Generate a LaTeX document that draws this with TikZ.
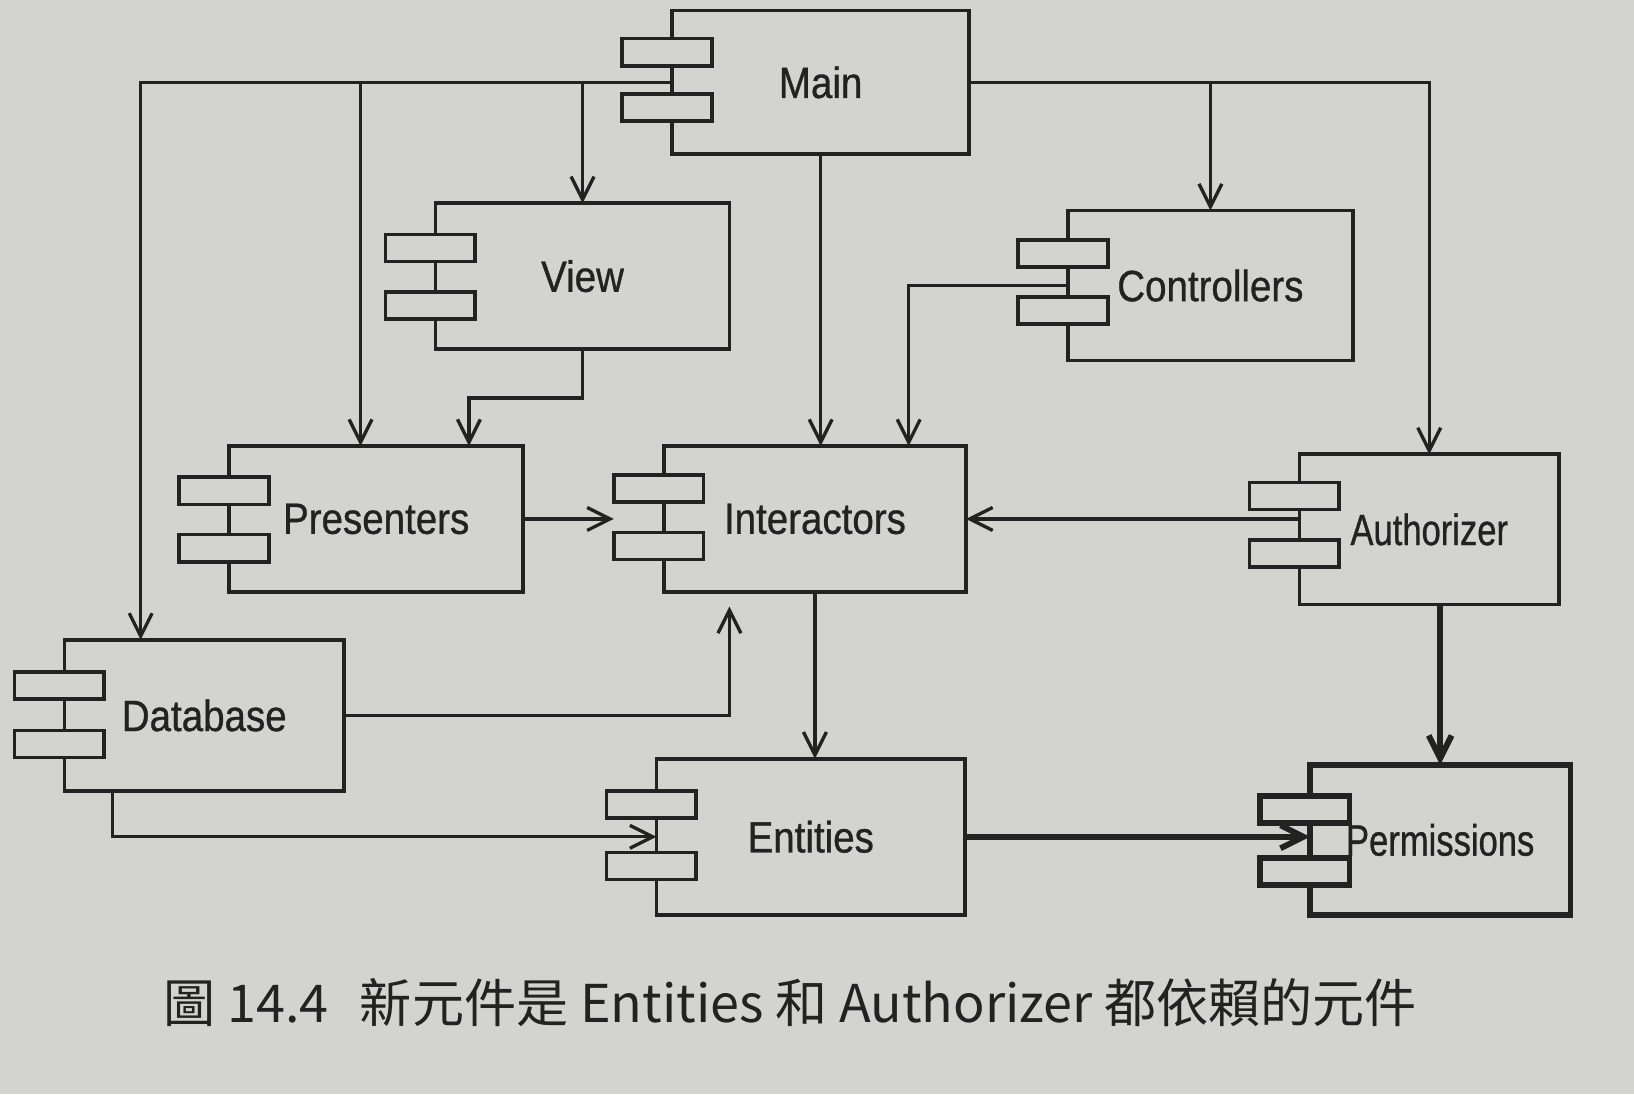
\documentclass[tikz,border=0pt]{standalone}
\usepackage{graphicx}
\usepackage{fontspec}
\setmainfont{Liberation Sans}
\newfontfamily\lblfont[FakeBold=0.8]{Liberation Sans}
\newfontfamily\cjk{Noto Sans CJK TC}
\usetikzlibrary{arrows.meta,fit,calc}
\definecolor{paper}{RGB}{211,211,207}
\definecolor{ink}{RGB}{34,34,34}
\newcommand{\lbl}[2][0.88]{\lblfont\fontsize{21}{24}\selectfont\scalebox{#1}[1]{#2}}
\newcommand{\compbox}[9]{%
  \node[box,#9,fit={(#2,#3) (#4,#5)}] (#1) {};
  \node[port,#9,fit={(#2-48,#6) (#2+38,#6+26)}] (#1-pa) {};
  \node[port,#9,fit={(#2-48,#7) (#2+38,#7+26)}] (#1-pb) {};
  \node[lab] (#1-t) at (#1.center) {#8};
}
\begin{document}
\begin{tikzpicture}[x=0.5pt,y=-0.5pt,
  box/.style={draw=ink,line width=1.8pt,inner sep=0pt,outer sep=0pt},
  port/.style={draw=ink,line width=1.8pt,inner sep=0pt,outer sep=0pt,fill=paper},
  lab/.style={inner sep=0pt,text=ink,anchor=center},
  heavy/.style={line width=2.8pt},
  conn/.style={draw=ink,line width=1.6pt,line join=miter,-{Straight Barb[length=11pt,width=11pt]}},
  heavyconn/.style={conn,line width=2.8pt}]
\fill[paper] (0,0) rectangle (1568,1050);
\useasboundingbox (0,0) rectangle (1568,1050);

\compbox{main}{645}{10}{930}{148}{37}{90}{\lbl{Main}}{}
\compbox{view}{418}{195}{700}{335}{225}{280}{\lbl{View}}{}
\compbox{ctrl}{1025}{202}{1298}{346}{230}{285}{\lbl{Controllers}}{}
\compbox{pres}{220}{428}{502}{568}{458}{513}{\lbl{Presenters}}{}
\compbox{inter}{637}{428}{927}{568}{456}{511}{\lbl{Interactors}}{}
\compbox{auth}{1247}{436}{1496}{580}{463}{518}{\lbl[0.79]{Authorizer}}{}
\compbox{db}{62}{614}{330}{759}{645}{701}{\lbl{Database}}{}
\compbox{ent}{630}{728}{926}{878}{759}{818}{\lbl{Entities}}{}
\compbox{perm}{1257}{734}{1507}{878}{764}{823}{\lbl[0.79]{Permissions}}{heavy}

\coordinate (dbin) at ($(db.north west)+(73,0)$);
\coordinate (presin) at ($(pres.north west)+(126,0)$);
\coordinate (presin2) at ($(pres.north west)+(230,0)$);
\coordinate (interin) at ($(inter.north west)+(235,0)$);
\coordinate (dbout) at ($(db.south west)+(46,0)$);
\coordinate (interup) at ($(inter.south west)+(63,14)$);

\draw[conn] (main.west) -| (dbin);
\draw[conn] (presin |- main.west) -- (presin);
\draw[conn] (view.north |- main.west) -- (view.north);
\draw[conn] (main.east) -| (auth.north);
\draw[conn] (ctrl.north |- main.east) -- (ctrl.north);
\draw[conn] (main.south) -- (main.south |- inter.north);
\draw[conn] (view.south) -- ++(0,47) -| (presin2);
\draw[conn] (ctrl.west) -| (interin);
\draw[conn] (pres.east) -- (pres.east -| inter-pa.west);
\draw[conn] (auth.west |- inter.east) -- (inter.east);
\draw[conn] (inter.south) -- (inter.south |- ent.north);
\draw[conn] (db.east) -| (interup);
\draw[conn] (dbout) |- (ent.west);
\draw[heavyconn] (ent.east) -- (ent.east -| perm.west);
\draw[heavyconn] (perm.north |- auth.south) -- (perm.north);

\node[anchor=west,text=ink,font=\cjk\fontsize{25}{30}\selectfont] (cap) at (150,962)
  {圖 14.4\hspace{0.6em}新元件是 Entities 和 Authorizer 都依賴的元件};
\end{tikzpicture}
\end{document}
